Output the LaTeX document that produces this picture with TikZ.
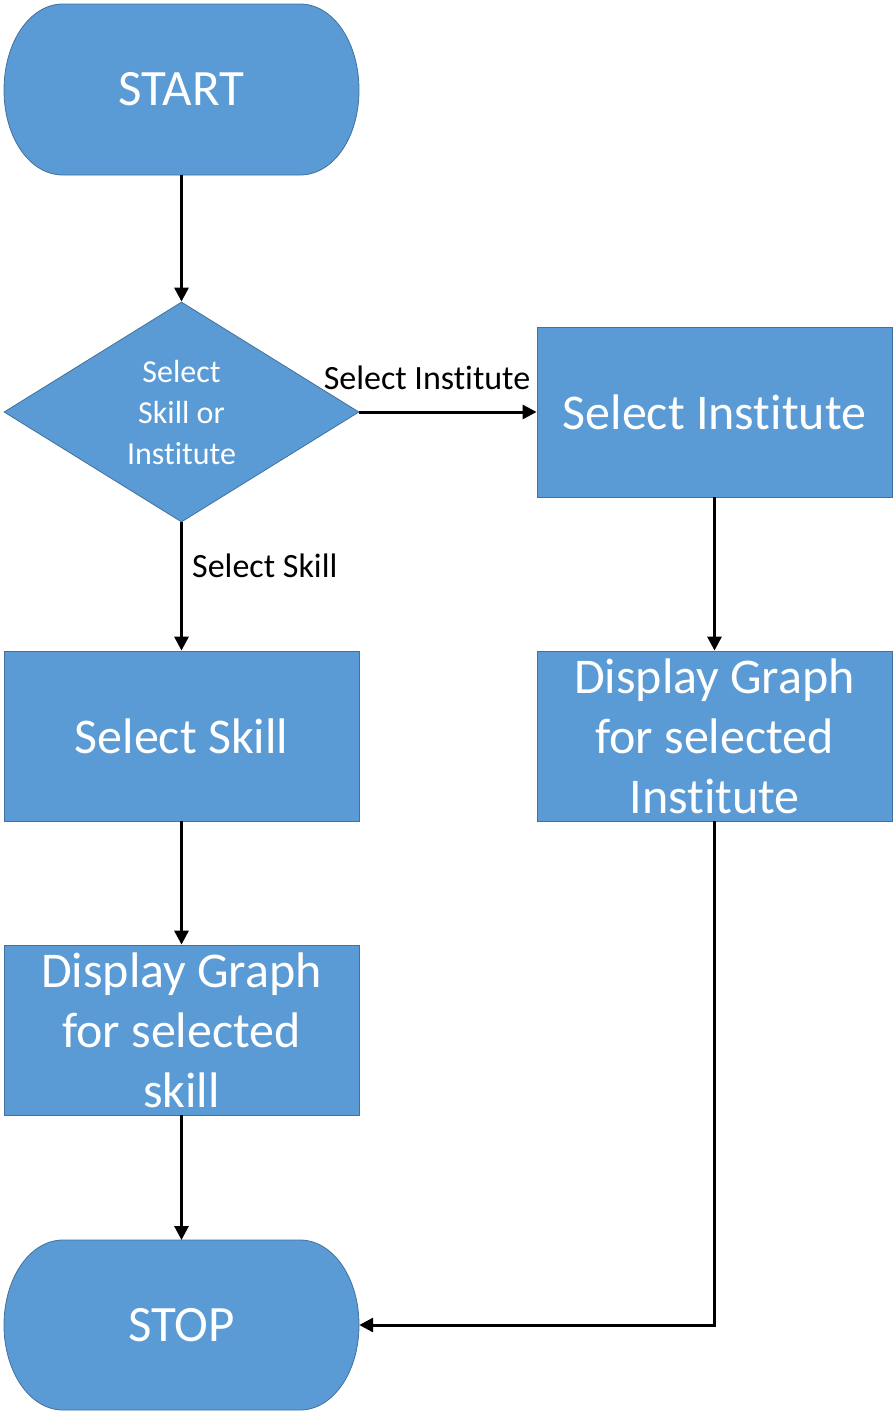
\documentclass[tikz,border=0pt]{standalone}
\usepackage{fontspec}
\setmainfont{Carlito}[Ligatures={NoCommon}]
\usetikzlibrary{arrows.meta,shapes.geometric}
\definecolor{boxfill}{HTML}{5B9BD5}
\definecolor{boxline}{HTML}{41719C}
\tikzset{
  blk/.style={draw=boxline,fill=boxfill,line width=0.8pt,text=white,align=center,inner sep=0pt},
  procbox/.style={blk,rectangle,minimum width=355pt,minimum height=170pt,font=\fontsize{50}{60}\selectfont},
  decbox/.style={blk,diamond,minimum width=355pt,minimum height=220pt,aspect=1.6,font=\fontsize{32}{41}\selectfont},
  termtext/.style={text=white,font=\fontsize{51}{60}\selectfont,inner sep=0pt,minimum width=355pt,minimum height=170pt},
  flow/.style={line width=3pt,-{Triangle[length=14pt,width=14pt]}},
  lbl/.style={font=\fontsize{34}{40}\selectfont,text=black,inner sep=0pt}
}
\begin{document}
\begin{tikzpicture}[x=1pt,y=-1pt]
\useasboundingbox (0,0) rectangle (892,1414);
% terminator outlines with elliptical ends
\fill[boxfill,draw=boxline,line width=0.8pt] (63,4) -- (300,4)
  .. controls (333,4) and (359,42) .. (359,90) .. controls (359,138) and (333,175) .. (300,175)
  -- (63,175) .. controls (30,175) and (4,138) .. (4,90) .. controls (4,42) and (30,4) .. (63,4) -- cycle;
\node[termtext] (start) at (181.5,89.5) {START};
\fill[boxfill,draw=boxline,line width=0.8pt] (63,1240) -- (300,1240)
  .. controls (333,1240) and (359,1278) .. (359,1325) .. controls (359,1372) and (333,1410) .. (300,1410)
  -- (63,1410) .. controls (30,1410) and (4,1372) .. (4,1325) .. controls (4,1278) and (30,1240) .. (63,1240) -- cycle;
\node[termtext] (stop) at (181.5,1325) {STOP};

\node[decbox] (dec) at (181.5,412) {Select\\Skill or\\Institute};
\node[procbox] (selinst) at (714.5,412) {Select Institute};
\node[procbox] (selskill) at (181.5,736) {Select Skill};
\node[procbox] (graphinst) at (714.5,736) {Display Graph\\for selected\\Institute};
\node[procbox] (graphskill) at (181.5,1030) {Display Graph\\for selected\\skill};

\coordinate (corner) at (graphinst.south |- stop.east);

\draw[flow] (start.south) -- (dec.north);
\draw[flow] (dec.east) -- (selinst.west);
\node[lbl] (lblinst) at (427,378) {Select Institute};
\draw[flow] (dec.south) -- (selskill.north);
\node[lbl,anchor=west] (lblskill) at (192,566) {Select Skill};
\draw[flow] (selinst.south) -- (graphinst.north);
\draw[flow] (selskill.south) -- (graphskill.north);
\draw[flow] (graphskill.south) -- (stop.south |- 0,1240);
\draw[flow] (graphinst.south) -- (corner) -- (stop.east);
\end{tikzpicture}
\end{document}
